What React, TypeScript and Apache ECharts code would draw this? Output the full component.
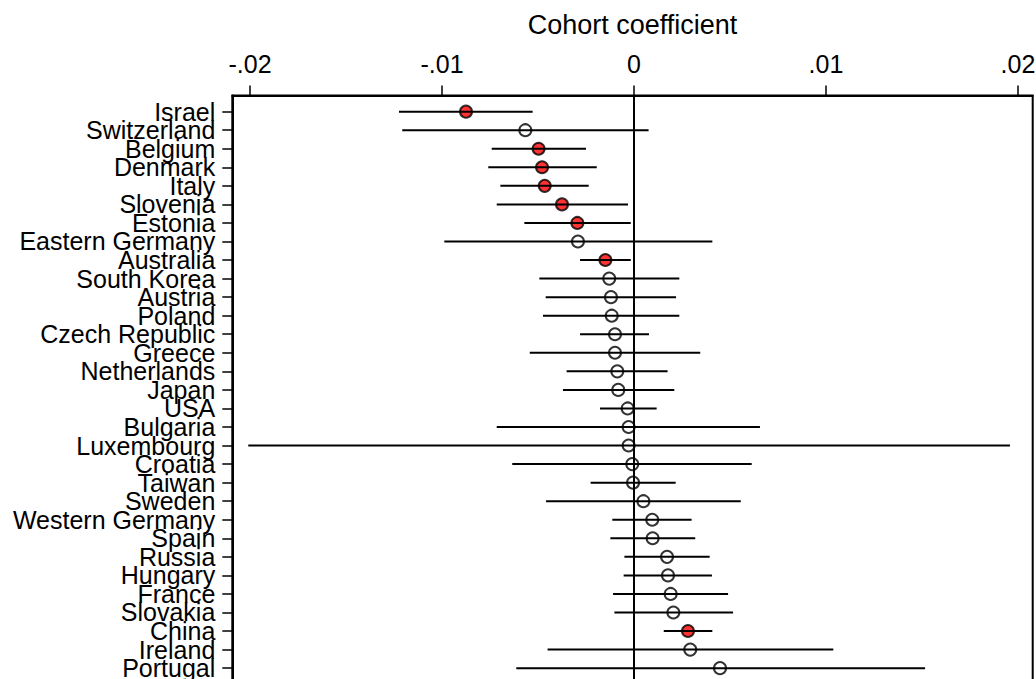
import React, { useEffect, useRef } from "react";
import * as echarts from "echarts";

const countries = [
  "Israel", "Switzerland", "Belgium", "Denmark", "Italy", "Slovenia", "Estonia",
  "Eastern Germany", "Australia", "South Korea", "Austria", "Poland", "Czech Republic",
  "Greece", "Netherlands", "Japan", "USA", "Bulgaria", "Luxembourg", "Croatia", "Taiwan",
  "Sweden", "Western Germany", "Spain", "Russia", "Hungary", "France", "Slovakia",
  "China", "Ireland", "Portugal",
];
const coef = [
  -0.00875, -0.00566, -0.00497, -0.00479, -0.00465, -0.00375, -0.00295,
  -0.00292, -0.00149, -0.00129, -0.0012, -0.00116, -0.00099,
  -0.00099, -0.00087, -0.00082, -0.00033, -0.00028, -0.00028, -0.00009, -0.00005,
  0.00049, 0.00095, 0.00097, 0.00172, 0.00177, 0.00191, 0.00205,
  0.00281, 0.00293, 0.00448,
];
const lower = [
  -0.01224, -0.01207, -0.00741, -0.00759, -0.00696, -0.00715, -0.00571,
  -0.00988, -0.00281, -0.00493, -0.0046, -0.00474, -0.00281,
  -0.00543, -0.00351, -0.0037, -0.00177, -0.00715, -0.02009, -0.00634, -0.00226,
  -0.00458, -0.00113, -0.00123, -0.0005, -0.00054, -0.00109, -0.00102,
  0.00155, -0.0045, -0.00613,
];
const upper = [
  -0.00528, 0.00076, -0.0025, -0.00194, -0.00236, -0.00031, -0.00017,
  0.00408, -0.00017, 0.00236, 0.00219, 0.00236, 0.00078,
  0.00345, 0.00175, 0.0021, 0.00118, 0.00656, 0.01958, 0.00613, 0.00217,
  0.00556, 0.003, 0.00319, 0.00394, 0.00406, 0.0049, 0.00516,
  0.00408, 0.01038, 0.01516,
];
const significant = [
  true, false, true, true, true, true, true,
  false, true, false, false, false, false,
  false, false, false, false, false, false, false, false,
  false, false, false, false, false, false, false,
  true, false, false,
];
const xTickValues = [-0.02, -0.01, 0, 0.01, 0.02];
const xTickLabels = ["-.02", "-.01", "0", ".01", ".02"];
const xAxisRange = [-0.020922, 0.020766];
const yAxisRange = [-0.87, 30.87];
const axisTitle = "Cohort coefficient";

const FONT = "'Liberation Sans', Arial, Helvetica, sans-serif";

export default function App() {
  const ref = useRef<HTMLDivElement>(null);
  useEffect(() => {
    if (!ref.current) return;
    const chart = echarts.init(ref.current, null, { renderer: "svg" });
    const idx = countries.map((_, i) => i);
    const evenIdx = idx.filter((i) => i % 2 === 0);
    const oddIdx = idx.filter((i) => i % 2 === 1);
    const pointData = countries.map((_, i) => ({
      value: [coef[i], i],
      itemStyle: {
        color: significant[i] ? "#ff0000" : "#ffffff",
        borderColor: "#000000",
        borderWidth: 2,
      },
    }));
    const barData = countries.map((_, i) => [lower[i], upper[i], i]);
    const makeYAxis = (vals: number[], showLine: boolean) => ({
      type: "value",
      inverse: true,
      position: "left",
      offset: 0,
      min: yAxisRange[0],
      max: yAxisRange[1],
      splitLine: { show: false },
      axisLine: { show: showLine, onZero: false, lineStyle: { color: "#000", width: 2 } },
      axisTick: {
        show: true,
        length: 10,
        customValues: vals,
        lineStyle: { color: "#000", width: 1.5 },
      },
      axisLabel: {
        customValues: vals,
        margin: 17,
        fontSize: 25,
        color: "#000",
        fontFamily: FONT,
        hideOverlap: false,
        showMinLabel: true,
        showMaxLabel: true,
        formatter: (v: number) => countries[Math.round(v)] ?? "",
      },
    });
    chart.setOption({
      animation: false,
      backgroundColor: "#ffffff",
      textStyle: { fontFamily: FONT },
      grid: {
        left: 232.3,
        top: 95.5,
        width: 800.4,
        height: (yAxisRange[1] - yAxisRange[0]) * 18.55,
        containLabel: false,
        outerBoundsMode: "none",
        show: true,
        borderColor: "#000000",
        borderWidth: 2,
        backgroundColor: "transparent",
      },
      xAxis: {
        type: "value",
        position: "top",
        min: xAxisRange[0],
        max: xAxisRange[1],
        name: axisTitle,
        nameLocation: "middle",
        nameGap: 57,
        nameTextStyle: { fontSize: 27, color: "#000", fontFamily: FONT },
        splitLine: { show: false },
        axisLine: { show: true, onZero: false, lineStyle: { color: "#000", width: 2 } },
        axisTick: {
          show: true,
          length: 10,
          inside: false,
          customValues: xTickValues,
          lineStyle: { color: "#000", width: 1.5 },
        },
        axisLabel: {
          customValues: xTickValues,
          margin: 19,
          fontSize: 25,
          color: "#000",
          fontFamily: FONT,
          hideOverlap: false,
          showMinLabel: true,
          showMaxLabel: true,
          formatter: (v: number) => {
            const k = xTickValues.findIndex((t) => Math.abs(t - v) < 1e-9);
            return k >= 0 ? xTickLabels[k] : "";
          },
        },
      },
      yAxis: [makeYAxis(evenIdx, true), makeYAxis(oddIdx, false)],
      series: [
        {
          type: "scatter",
          z: 2,
          yAxisIndex: 0,
          symbol: "circle",
          symbolSize: 12,
          data: pointData,
          silent: true,
        },
        {
          type: "custom",
          z: 4,
          yAxisIndex: 0,
          clip: false,
          silent: true,
          encode: { x: [0, 1], y: 2 },
          data: barData,
          renderItem: (_params: any, api: any) => {
            const y = api.value(2);
            const p1 = api.coord([api.value(0), y]);
            const p2 = api.coord([api.value(1), y]);
            return {
              type: "line",
              shape: { x1: p1[0], y1: p1[1], x2: p2[0], y2: p2[1] },
              style: { stroke: "#000000", lineWidth: 2 },
            };
          },
          markLine: {
            silent: true,
            symbol: ["none", "none"],
            label: { show: false },
            lineStyle: { color: "#000000", width: 2, type: "solid" },
            data: [{ xAxis: 0 }],
          },
        },
      ],
    });
    return () => chart.dispose();
  }, []);
  return (
    <div
      ref={ref}
      style={{ position: "fixed", left: 0, top: 0, width: 1036, height: 679, background: "#fff" }}
    />
  );
}
